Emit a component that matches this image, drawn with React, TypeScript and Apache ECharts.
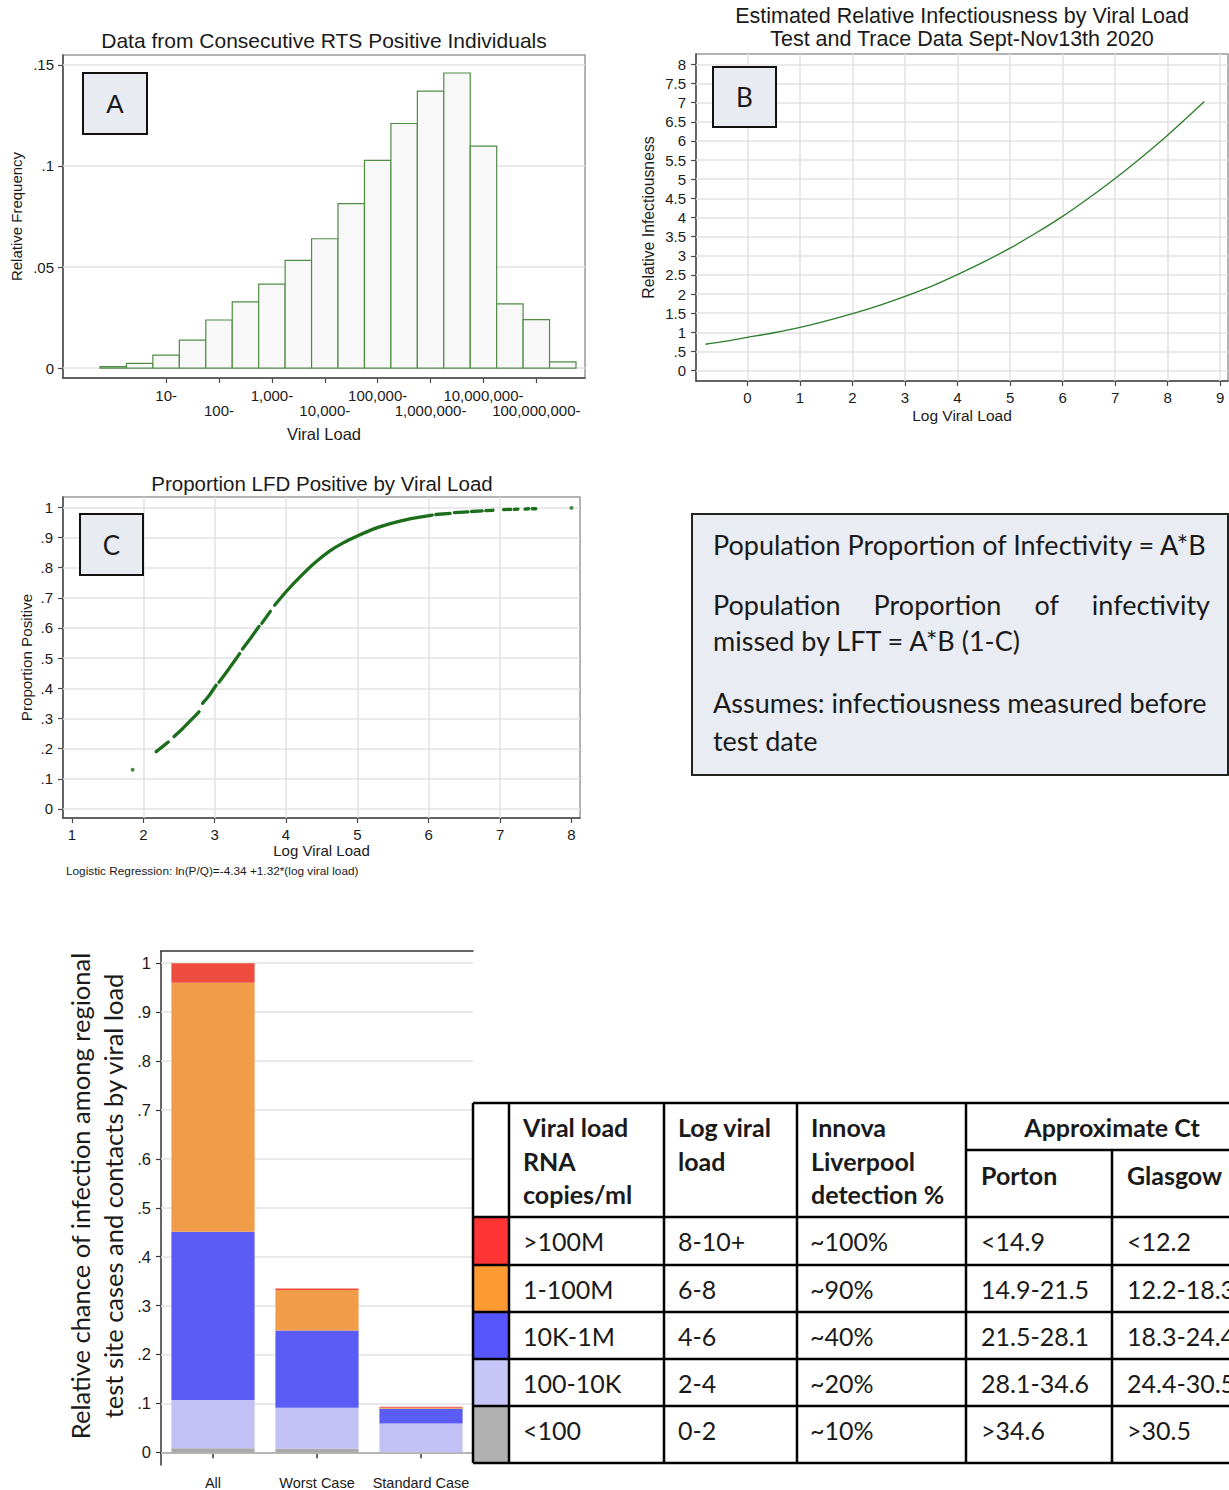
import React, { useEffect, useRef } from "react";
import * as echarts from "echarts";

const W = 1229;
const H = 1490;
const SANS = '"Liberation Sans", Arial, Helvetica, sans-serif';
const CAL = 'Lato, "Open Sans", "Noto Sans", sans-serif';
const TXT = "#1a1a1a";
const AXIS = "#4a4a4a";
const FRAME = "#9a9a9a";
const GRIDLINE = "#e2e2e2";

// ---- Panel A: relative frequency of viral load in half-decade bins (log10 copies/ml)
const binLower = [-0.25, 0.25, 0.75, 1.25, 1.75, 2.25, 2.75, 3.25, 3.75, 4.25, 4.75, 5.25, 5.75, 6.25, 6.75, 7.25, 7.75, 8.25];
const binWidth = 0.5;
const relFreq = [0.0007, 0.0023, 0.0064, 0.0138, 0.0238, 0.0328, 0.0415, 0.0533, 0.064, 0.0814, 0.1028, 0.121, 0.137, 0.146, 0.1098, 0.0318, 0.024, 0.0031];
const decadeTicks = [1, 2, 3, 4, 5, 6, 7, 8];
const decadeLabels = ["10-", "100-", "1,000-", "10,000-", "100,000-", "1,000,000-", "10,000,000-", "100,000,000-"];
const decadeTicksUpper = [1, 3, 5, 7];
const decadeTicksLower = [2, 4, 6, 8];
const freqTicks = [0, 0.05, 0.1, 0.15];

// ---- Panel B: estimated relative infectiousness by log viral load
const infLogVL = [-0.8, -0.5, 0, 0.5, 1, 1.5, 2, 2.5, 3, 3.5, 4, 4.5, 5, 5.5, 6, 6.5, 7, 7.5, 8, 8.7];
const relInfectiousness = [0.69, 0.75, 0.87, 0.99, 1.13, 1.3, 1.49, 1.7, 1.94, 2.2, 2.51, 2.84, 3.2, 3.6, 4.03, 4.51, 5.02, 5.57, 6.15, 7.03];
const infTicks = [0, 0.5, 1, 1.5, 2, 2.5, 3, 3.5, 4, 4.5, 5, 5.5, 6, 6.5, 7, 7.5, 8];
const infLogTicks = [0, 1, 2, 3, 4, 5, 6, 7, 8, 9];

// ---- Panel C: fitted proportion LFD positive at observed log viral loads (runs of dense points)
const lfdRuns: number[][][] = [
  [[2.18, 0.19], [2.26, 0.205], [2.35, 0.222]],
  [[2.43, 0.24], [2.55, 0.266], [2.67, 0.295], [2.78, 0.322]],
  [[2.83, 0.35], [2.92, 0.375], [3.02, 0.41]],
  [[3.06, 0.42], [3.2, 0.465], [3.35, 0.515]],
  [[3.39, 0.53], [3.5, 0.565], [3.62, 0.605]],
  [[3.66, 0.615], [3.78, 0.655]],
  [[3.84, 0.675], [4.0, 0.72], [4.2, 0.77], [4.4, 0.815], [4.6, 0.853], [4.8, 0.882], [5.0, 0.905], [5.25, 0.93], [5.5, 0.948], [5.75, 0.962], [6.05, 0.974]],
  [[6.1, 0.976], [6.3, 0.98]],
  [[6.36, 0.982], [6.55, 0.985]],
  [[6.6, 0.986], [6.75, 0.988]],
  [[6.8, 0.989], [6.9, 0.99]],
  [[7.05, 0.992], [7.15, 0.993]],
  [[7.2, 0.993], [7.25, 0.994]],
  [[7.35, 0.994], [7.4, 0.995]],
  [[7.45, 0.995], [7.5, 0.995]],
];
const lfdIsolated = [[1.85, 0.13], [8.0, 0.998]];
const propTicks = [0, 0.1, 0.2, 0.3, 0.4, 0.5, 0.6, 0.7, 0.8, 0.9, 1];
const lfdLogTicks = [1, 2, 3, 4, 5, 6, 7, 8];
const lfdGridX = [2, 3, 4, 5, 6, 7];

// ---- Bottom: relative chance of infection by viral load band
const scenarios = ["All", "Worst Case", "Standard Case"];
const bandNames = [">100M", "1-100M", "10K-1M", "100-10K", "<100"];
const shareAbove100M = [0.04, 0.003, 0.002];
const share1to100M = [0.509, 0.083, 0.002];
const share10Kto1M = [0.344, 0.158, 0.03];
const share100to10K = [0.099, 0.084, 0.059];
const shareBelow100 = [0.008, 0.007, 0];
const shareTicks = [0, 0.1, 0.2, 0.3, 0.4, 0.5, 0.6, 0.7, 0.8, 0.9, 1];

// ---- Table of viral load bands
const bandLogRange = ["8-10+", "6-8", "4-6", "2-4", "0-2"];
const innovaDetection = ["~100%", "~90%", "~40%", "~20%", "~10%"];
const ctPorton = ["<14.9", "14.9-21.5", "21.5-28.1", "28.1-34.6", ">34.6"];
const ctGlasgow = ["<12.2", "12.2-18.3", "18.3-24.4", "24.4-30.5", ">30.5"];

const barColors = ["#ee4c3e", "#f09c48", "#5a5cf5", "#c1c1f6", "#a9a9a9"];
const swatchColors = ["#ff3535", "#ff9a33", "#5656fc", "#c6c6f9", "#b1b1b1"];

function fmtDec(v: number): string {
  if (v === 0) return "0";
  const s = String(Math.round(v * 100) / 100);
  return s.startsWith("0.") ? s.slice(1) : s;
}

function decadeLabel(v: number): string {
  const i = decadeTicks.indexOf(v);
  return i >= 0 ? decadeLabels[i] : "";
}

function gridMarks(items: any[]) {
  return {
    silent: true,
    z: 1,
    symbol: ["none", "none"],
    label: { show: false },
    emphasis: { disabled: true },
    lineStyle: { color: GRIDLINE, width: 1.5, type: "solid" },
    data: items,
    animation: false,
  };
}

function txt(x: number, y: number, text: string, size: number, family: string, extra: any = {}) {
  return {
    type: "text",
    x,
    y,
    z: 50,
    silent: true,
    style: { text, fontSize: size, fontFamily: family, fill: TXT, align: "left", verticalAlign: "middle", ...extra },
  };
}

function seg(x1: number, y1: number, x2: number, y2: number, w: number, color = "#000") {
  return { type: "line", z: 60, silent: true, shape: { x1, y1, x2, y2 }, style: { stroke: color, lineWidth: w } };
}

function labelBox(x: number, y: number, w: number, h: number, letter: string, family: string) {
  return [
    { type: "rect", z: 40, silent: true, shape: { x, y, width: w, height: h }, style: { fill: "#e8ebf1", stroke: "#111", lineWidth: 2 } },
    txt(x + w / 2, y + h / 2, letter, 26, family, { align: "center" }),
  ];
}

function justifiedLine(words: string[], x0: number, x1: number, y: number, size: number) {
  const ctx = document.createElement("canvas").getContext("2d");
  let widths = words.map((w) => w.length * size * 0.5);
  if (ctx) {
    ctx.font = `${size}px ${CAL}`;
    widths = words.map((w) => ctx.measureText(w).width);
  }
  const total = widths.reduce((a, b) => a + b, 0);
  const gap = (x1 - x0 - total) / (words.length - 1);
  const out: any[] = [];
  let x = x0;
  words.forEach((w, i) => {
    out.push(txt(x, y, w, size, CAL));
    x += widths[i] + gap;
  });
  return out;
}

function buildTable() {
  const colX = [473, 509, 664, 797, 966, 1112, 1258];
  const rowY = [1103, 1217, 1265, 1312, 1359, 1406, 1463];
  const subHeadY = 1150;
  const els: any[] = [];
  const size = 25;
  swatchColors.forEach((c, i) => {
    els.push({ type: "rect", z: 45, silent: true, shape: { x: colX[0], y: rowY[i + 1], width: colX[1] - colX[0], height: rowY[i + 2] - rowY[i + 1] }, style: { fill: c } });
  });
  const headers = [["Viral load", "RNA", "copies/ml"], ["Log viral", "load"], ["Innova", "Liverpool", "detection %"]];
  headers.forEach((lines, c) => {
    lines.forEach((l, k) => els.push(txt(colX[c + 1] + 14, rowY[0] + 24 + k * 33.5, l, size, CAL, { fontWeight: "bold" })));
  });
  els.push(txt((colX[4] + colX[6]) / 2, rowY[0] + 24, "Approximate Ct", size, CAL, { fontWeight: "bold", align: "center" }));
  els.push(txt(colX[4] + 15, 1175, "Porton", size, CAL, { fontWeight: "bold" }));
  els.push(txt(colX[5] + 15, 1175, "Glasgow", size, CAL, { fontWeight: "bold" }));
  const cols = [bandNames, bandLogRange, innovaDetection, ctPorton, ctGlasgow];
  const pad = [14, 14, 13, 15, 15];
  bandNames.forEach((_, r) => {
    cols.forEach((col, c) => {
      els.push(txt(colX[c + 1] + pad[c], rowY[r + 1] + 24, col[r], size, CAL));
    });
  });
  rowY.forEach((y) => els.push(seg(colX[0], y, colX[6], y, 2.5)));
  els.push(seg(colX[4], subHeadY, colX[6], subHeadY, 2.5));
  [0, 1, 2, 3, 4, 6].forEach((i) => els.push(seg(colX[i], rowY[0], colX[i], rowY[6], 2.5)));
  els.push(seg(colX[5], subHeadY, colX[5], rowY[6], 2.5));
  return els;
}

function buildOption(): any {
  const graphics: any[] = [
    txt(324, 40, "Data from Consecutive RTS Positive Individuals", 21, SANS, { align: "center" }),
    txt(962, 16, "Estimated Relative Infectiousness by Viral Load", 21.5, SANS, { align: "center" }),
    txt(962, 39, "Test and Trace Data Sept-Nov13th 2020", 21.5, SANS, { align: "center" }),
    txt(322, 483, "Proportion LFD Positive by Viral Load", 20.5, SANS, { align: "center" }),
    txt(66, 871, "Logistic Regression: ln(P/Q)=-4.34 +1.32*(log viral load)", 11.8, SANS),
    ...labelBox(83, 73, 64, 61, "A", SANS),
    ...labelBox(713, 67, 63, 60, "B", CAL),
    ...labelBox(80, 514, 63, 61, "C", CAL),
    { type: "rect", z: 40, silent: true, shape: { x: 692, y: 514, width: 536, height: 261 }, style: { fill: "#e9ecf2", stroke: "#222", lineWidth: 2 } },
    txt(713, 544, "Population Proportion of Infectivity = A*B", 27, CAL),
    ...justifiedLine(["Population", "Proportion", "of", "infectivity"], 713, 1210, 604, 27),
    txt(713, 640, "missed by LFT = A*B (1-C)", 27, CAL),
    txt(713, 702, "Assumes: infectiousness measured before", 27, CAL),
    txt(713, 740, "test date", 27, CAL),
    ...buildTable(),
  ];

  const axisLine = { show: true, onZero: false, lineStyle: { color: AXIS, width: 1.5 } };
  const tick = (vals: number[]) => ({ show: true, customValues: vals, length: 5, lineStyle: { color: AXIS, width: 1.2 } });
  const frame = { show: true, borderColor: FRAME, borderWidth: 1.5, backgroundColor: "transparent" };
  const edgeLabels = { showMinLabel: true, showMaxLabel: true, hideOverlap: false };

  const barSeries = [
    { name: "<100", data: shareBelow100, color: barColors[4] },
    { name: "100-10K", data: share100to10K, color: barColors[3] },
    { name: "10K-1M", data: share10Kto1M, color: barColors[2] },
    { name: "1-100M", data: share1to100M, color: barColors[1] },
    { name: ">100M", data: shareAbove100M, color: barColors[0] },
  ].map((s, i) => ({
    type: "bar",
    name: s.name,
    xAxisIndex: 3,
    yAxisIndex: 3,
    stack: "load",
    barWidth: "80%",
    z: 2,
    data: s.data,
    itemStyle: { color: s.color },
    ...(i === 0 ? { markLine: gridMarks(shareTicks.map((v) => ({ yAxis: v }))) } : {}),
  }));

  return {
    animation: false,
    backgroundColor: "#ffffff",
    textStyle: { fontFamily: SANS, color: TXT },
    grid: [
      { left: 63, top: 55, width: 522, height: 323, ...frame },
      { left: 696, top: 54, width: 532, height: 327, ...frame },
      { left: 63, top: 497, width: 517, height: 321, ...frame },
      { left: 161, top: 951, width: 312, height: 514, show: false },
    ],
    xAxis: [
      {
        gridIndex: 0, type: "value", min: -0.95, max: 8.92, position: "bottom",
        axisLine, axisTick: tick(decadeTicks), splitLine: { show: false },
        axisLabel: { customValues: decadeTicksUpper, fontSize: 15, margin: 10, color: TXT, formatter: decadeLabel, ...edgeLabels },
        name: "Viral Load", nameLocation: "middle", nameGap: 47, nameTextStyle: { fontSize: 16.5, color: TXT },
      },
      {
        gridIndex: 1, type: "value", min: -0.98, max: 9.15,
        axisLine, axisTick: tick(infLogTicks), splitLine: { show: false },
        axisLabel: { customValues: infLogTicks, fontSize: 15, margin: 9, color: TXT, ...edgeLabels },
        name: "Log Viral Load", nameLocation: "middle", nameGap: 26, nameTextStyle: { fontSize: 15.5, color: TXT },
      },
      {
        gridIndex: 2, type: "value", min: 0.874, max: 8.12,
        axisLine, axisTick: tick(lfdLogTicks), splitLine: { show: false },
        axisLabel: { customValues: lfdLogTicks, fontSize: 15, margin: 9, color: TXT, ...edgeLabels },
        name: "Log Viral Load", nameLocation: "middle", nameGap: 25, nameTextStyle: { fontSize: 15, color: TXT },
      },
      {
        gridIndex: 3, type: "category", data: scenarios,
        axisLine: { show: true, lineStyle: { color: "#333", width: 2 } },
        axisTick: { show: true, alignWithLabel: true, length: 6, lineStyle: { color: "#333", width: 1.5 } },
        axisLabel: { fontSize: 14.5, margin: 10, color: TXT, interval: 0 },
      },
      {
        gridIndex: 3, type: "category", data: scenarios, position: "top",
        axisLine: { show: true, lineStyle: { color: "#333", width: 1.5 } },
        axisTick: { show: false }, axisLabel: { show: false },
      },
      {
        // second row of staggered decade labels for panel A
        gridIndex: 0, type: "value", min: -0.95, max: 8.92, position: "bottom", offset: 0,
        axisLine: { show: false }, axisTick: { show: false }, splitLine: { show: false },
        axisLabel: { customValues: decadeTicksLower, fontSize: 15, margin: 25, color: TXT, formatter: decadeLabel, ...edgeLabels },
      },
    ],
    yAxis: [
      {
        gridIndex: 0, type: "value", min: -0.0049, max: 0.1549,
        axisLine, axisTick: tick(freqTicks), splitLine: { show: false },
        axisLabel: { customValues: freqTicks, formatter: fmtDec, fontSize: 15, margin: 9, color: TXT, ...edgeLabels },
        name: "Relative Frequency", nameLocation: "middle", nameRotate: 90, nameGap: 39, nameTextStyle: { fontSize: 15, color: TXT },
      },
      {
        gridIndex: 1, type: "value", min: -0.27, max: 8.27,
        axisLine, axisTick: tick(infTicks), splitLine: { show: false },
        axisLabel: { customValues: infTicks, formatter: fmtDec, fontSize: 15, margin: 10, color: TXT, ...edgeLabels },
        name: "Relative Infectiousness", nameLocation: "middle", nameRotate: 90, nameGap: 40, nameTextStyle: { fontSize: 15.8, color: TXT },
      },
      {
        gridIndex: 2, type: "value", min: -0.03, max: 1.034,
        axisLine, axisTick: tick(propTicks), splitLine: { show: false },
        axisLabel: { customValues: propTicks, formatter: fmtDec, fontSize: 15, margin: 10, color: TXT, ...edgeLabels },
        name: "Proportion Positive", nameLocation: "middle", nameRotate: 90, nameGap: 29, nameTextStyle: { fontSize: 15.2, color: TXT },
      },
      {
        gridIndex: 3, type: "value", min: -0.026, max: 1.025,
        axisLine: { show: true, onZero: false, lineStyle: { color: "#333", width: 1.5 } },
        axisTick: { show: true, customValues: shareTicks, length: 5, lineStyle: { color: "#333", width: 1.2 } },
        splitLine: { show: false },
        axisLabel: { customValues: shareTicks, formatter: fmtDec, fontSize: 16.5, margin: 10, color: TXT, ...edgeLabels },
        name: "Relative chance of infection among regional\ntest site cases and contacts by viral load",
        nameLocation: "middle", nameRotate: 90, nameGap: 32,
        nameTextStyle: { fontSize: 25.5, lineHeight: 33, fontFamily: CAL, color: TXT, align: "center", padding: [0, 0, 0, 24] },
      },
    ],
    series: [
      {
        type: "custom",
        name: "Relative frequency",
        xAxisIndex: 0,
        yAxisIndex: 0,
        z: 2,
        data: binLower.map((x, i) => [x, relFreq[i]]),
        renderItem: (_params: any, api: any) => {
          const x0 = api.value(0);
          const h = api.value(1);
          const p0 = api.coord([x0, 0]);
          const p1 = api.coord([x0 + binWidth, h]);
          return {
            type: "rect",
            shape: { x: p0[0], y: p1[1], width: p1[0] - p0[0], height: p0[1] - p1[1] },
            style: { fill: "#f8f8f8", stroke: "#4f8c44", lineWidth: 1.2 },
          };
        },
        markLine: gridMarks(freqTicks.map((v) => ({ yAxis: v }))),
      },
      {
        type: "line",
        name: "Relative infectiousness",
        xAxisIndex: 1,
        yAxisIndex: 1,
        z: 2,
        smooth: 0.3,
        showSymbol: false,
        data: infLogVL.map((x, i) => [x, relInfectiousness[i]]),
        lineStyle: { color: "#2d7d2d", width: 1.3 },
        markLine: gridMarks([
          ...infLogTicks.map((v) => ({ xAxis: v })),
          ...infTicks.map((v) => ({ yAxis: v })),
        ]),
      },
      ...lfdRuns.map((run, i) => ({
        type: "line",
        name: "Proportion positive",
        xAxisIndex: 2,
        yAxisIndex: 2,
        z: 2,
        smooth: 0.2,
        showSymbol: false,
        data: run,
        lineStyle: { color: "#1c6e1c", width: 3.3, cap: "round" },
        ...(i === 0
          ? { markLine: gridMarks([...lfdGridX.map((v) => ({ xAxis: v })), ...propTicks.map((v) => ({ yAxis: v }))]) }
          : {}),
      })),
      {
        type: "scatter",
        name: "Proportion positive (isolated)",
        xAxisIndex: 2,
        yAxisIndex: 2,
        z: 2,
        symbolSize: 4,
        data: lfdIsolated,
        itemStyle: { color: "#1c6e1c" },
      },
      ...barSeries,
    ],
    graphic: { elements: graphics },
  };
}

export default function App() {
  const ref = useRef<HTMLDivElement>(null);
  useEffect(() => {
    if (!ref.current) return;
    const chart = echarts.init(ref.current, null, { renderer: "svg", width: W, height: H });
    chart.setOption(buildOption());
    return () => chart.dispose();
  }, []);
  return <div ref={ref} style={{ position: "absolute", left: 0, top: 0, width: W, height: H, background: "#fff" }} />;
}
